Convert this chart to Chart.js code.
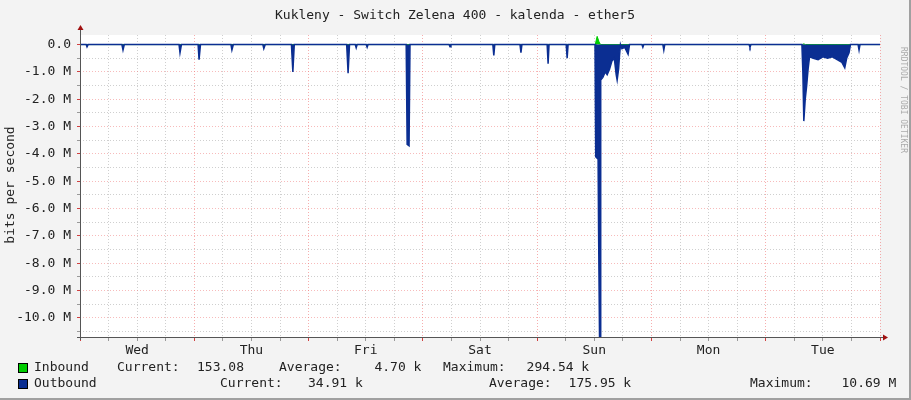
<!DOCTYPE html>
<html><head><meta charset="utf-8">
<script src="https://cdn.jsdelivr.net/npm/chart.js@4"></script>
<style>html,body{margin:0;padding:0;background:#f3f3f3;}#w{width:911px;height:400px;position:relative;box-sizing:border-box;border-right:2px solid #a0a0a0;border-bottom:2px solid #a0a0a0;}</style>
</head><body><div id="w"><canvas id="c" width="911" height="400"></canvas></div>
<script>
// hours since Wed 00:00, values in Mbit/s (outbound drawn negative)
const dayLabels = ['Wed','Thu','Fri','Sat','Sun','Mon','Tue'];
const yTickValues = [0,-1,-2,-3,-4,-5,-6,-7,-8,-9,-10];
const outTimes = [0,1.3,1.47,1.7,8.8,9.03,9.3,20.8,21.0,21.3,24.8,25.0,25.3,31.7,31.9,32.2,38.4,38.6,38.9,44.4,44.7,45.0,56.0,56.3,56.6,57.8,58.0,58.2,60.1,60.3,60.5,68.5,68.7,69.1,69.3,77.5,77.7,77.9,86.7,86.9,87.1,92.4,92.6,92.8,98.1,98.3,98.5,102.1,102.3,102.5,
  108.15,108.3,108.8,108.9,109.1,109.25,109.35,109.8,110.3,110.7,111.2,111.7,112.2,112.6,112.8,113.1,113.3,113.5,113.8,114.4,115.1,115.4,118.0,118.2,118.4,122.4,122.6,122.8,140.5,140.7,140.9,
  151.6,151.8,152.0,152.3,152.6,152.9,153.2,154,155,156,157,158,159,160,160.6,161,161.5,161.8,163.4,163.6,163.8,168];
const outValues = [0,0,-0.08,0,0,-0.2,0,0,-0.3,0,0,-0.55,0,0,-0.2,0,0,-0.15,0,0,-1.0,0,0,-1.05,0,0,-0.12,0,0,-0.1,0,0,-3.65,-3.7,0,0,-0.08,0,0,-0.4,0,0,-0.3,0,0,-0.7,0,0,-0.5,0,
  0,-4.1,-4.2,-6.8,-10.7,-10.7,-1.3,-1.2,-1.0,-1.1,-0.9,-0.6,-0.5,-1.1,-1.3,-0.9,-0.4,0,-0.15,-0.1,-0.35,0,0,-0.1,0,0,-0.2,0,0,-0.1,0,
  0,-1.0,-2.8,-2.0,-1.5,-0.9,-0.45,-0.5,-0.55,-0.45,-0.5,-0.45,-0.55,-0.65,-0.85,-0.5,-0.3,0,0,-0.2,0,0];
const inTimes = [0,108.2,108.6,109.0,109.3,151.8,152.0,152.3,168];
const inValues = [0,0,0.3,0.1,0,0,0.03,0,0];
const legendRows = [
  ['Inbound','Current:','153.08','Average:','4.70 k','Maximum:','294.54 k'],
  ['Outbound','Current:','34.91 k','Average:','175.95 k','Maximum:','10.69 M']
];

const FONT = 'DejaVu Sans Mono';
const BLUE = '#0b2e92', GREEN = '#00cc00';
const pts = (t,v)=>t.map((x,i)=>({x:x,y:v[i]}));

const deco = {
  id:'deco',
  beforeDraw(ch){const c=ch.ctx,a=ch.chartArea;c.save();c.fillStyle='#ffffff';c.fillRect(a.left,a.top,a.right-a.left,a.bottom-a.top);c.restore();},
  afterDraw(ch){
    const c=ch.ctx,a=ch.chartArea;c.save();
    c.strokeStyle='#555';c.lineWidth=1;
    c.beginPath();c.moveTo(a.left+0.5,a.bottom+3);c.lineTo(a.left+0.5,a.top-6);c.stroke();
    c.beginPath();c.moveTo(a.left-3,a.bottom+0.5);c.lineTo(a.right+4,a.bottom+0.5);c.stroke();
    c.fillStyle='#a01010';
    c.beginPath();c.moveTo(a.left-2.5,a.top-5);c.lineTo(a.left+3.5,a.top-5);c.lineTo(a.left+0.5,a.top-10);c.fill();
    c.beginPath();c.moveTo(a.right+3,a.bottom-2.5);c.lineTo(a.right+3,a.bottom+3.5);c.lineTo(a.right+8,a.bottom+0.5);c.fill();
    c.fillStyle='#222';c.font='13px '+FONT;c.textBaseline='middle';c.textAlign='center';
    c.fillText('Kukleny - Switch Zelena 400 - kalenda - ether5',455,16);
    c.save();c.translate(11,185);c.rotate(-Math.PI/2);c.fillText('bits per second',0,0);c.restore();
    c.save();c.fillStyle='#aaa';c.font='8px '+FONT;c.translate(903,200);c.rotate(Math.PI/2);c.fillText('RRDTOOL / TOBI OETIKER',-100,0);c.restore();
    c.textAlign='left';
    const xs=[[34,117,197,279,374,443,526],[34,220,308,489,568,750,841]];
    const ys=[368,384];
    [GREEN,BLUE].forEach((col,r)=>{
      c.fillStyle=col;c.fillRect(18,ys[r]-5,10,10);c.strokeStyle='#000';c.strokeRect(18.5,ys[r]-4.5,9,9);
      c.fillStyle='#222';
      legendRows[r].forEach((s,i)=>{
        if(i===4||i===6){c.textAlign='right';c.fillText(s,xs[r][i]+s.length*7.9,ys[r]);c.textAlign='left';}
        else c.fillText(s,xs[r][i],ys[r]);
      });
    });
    c.restore();
  }
};

new Chart(document.getElementById('c'),{
  type:'line',
  data:{datasets:[
    {data:pts(outTimes,outValues),borderColor:BLUE,backgroundColor:BLUE,borderWidth:1.5,fill:'origin',pointRadius:0,tension:0},
    {data:pts(inTimes,inValues),borderColor:GREEN,backgroundColor:GREEN,borderWidth:1,fill:'origin',pointRadius:0,tension:0}
  ]},
  plugins:[deco],
  options:{
    responsive:false,animation:false,devicePixelRatio:1,
    layout:{padding:{top:35,right:31,bottom:41,left:0}},
    plugins:{legend:{display:false},tooltip:{enabled:false}},
    scales:{
      x:{type:'linear',min:0,max:168,border:{display:false,dash:[1,2]},
        afterBuildTicks(s){const t=[];for(let h=0;h<=168;h+=6)t.push({value:h});s.ticks=t;},
        afterFit(s){s.height=22;},
        ticks:{autoSkip:false,maxRotation:0,color:'#222',font:{family:FONT,size:13},padding:2,
          callback(v){return (v%24===12)?dayLabels[(v-12)/24]:'';}},
        grid:{drawTicks:true,tickLength:4,tickColor:c=>c.tick&&c.tick.value%24===0?'#d04040':'#999',color:c=>c.tick&&c.tick.value%24===0?'rgba(240,120,120,0.6)':'#cfcfcf',lineWidth:1}
      },
      y:{min:-10.7,max:0.35,border:{display:false,dash:[1,2]},
        afterBuildTicks(s){const t=[];for(let v=0;v>=-10.5;v-=0.5)t.push({value:v});s.ticks=t;},
        afterFit(s){s.width=80;},
        ticks:{autoSkip:false,color:'#222',font:{family:FONT,size:13},padding:6,
          callback(v){if(!yTickValues.includes(v))return '';return v===0?'0.0':v.toFixed(1)+' M';}},
        grid:{tickLength:3,tickColor:c=>c.tick&&Number.isInteger(c.tick.value)?'#d04040':'#999',color:c=>c.tick&&Number.isInteger(c.tick.value)?'rgba(240,120,120,0.5)':'#cfcfcf',lineWidth:1}
      }
    }
  }
});
</script></body></html>
